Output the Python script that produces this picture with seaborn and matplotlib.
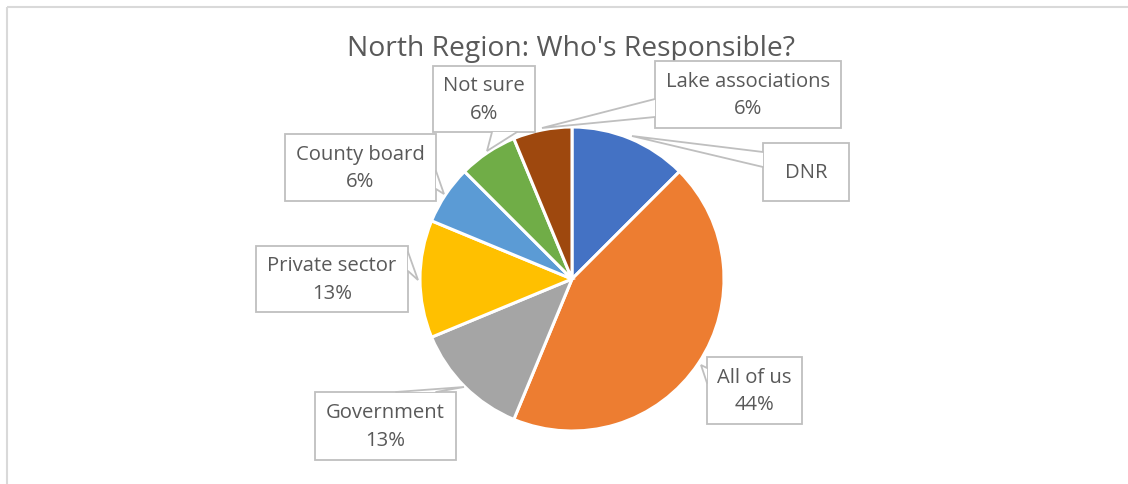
import matplotlib
matplotlib.use("Agg")
import matplotlib.pyplot as plt
from matplotlib.patches import Rectangle, Polygon
import seaborn as sns

# Survey responses: who is responsible (North Region)
categories = ["DNR", "All of us", "Government", "Private sector",
              "County board", "Not sure", "Lake associations"]
counts = [2, 7, 2, 2, 1, 1, 1]
show_percent = [False, True, True, True, True, True, True]
title = "North Region: Who's Responsible?"

sns.set_theme(style="white")
plt.rcParams["font.family"] = ["Open Sans", "DejaVu Sans"]

palette = sns.color_palette(["#4472C4", "#ED7D31", "#A5A5A5", "#FFC000",
                             "#5B9BD5", "#70AD47", "#9E480E"])

W, H = 1128, 485
fig = plt.figure(figsize=(W / 100, H / 100), dpi=100)
fig.patch.set_facecolor("white")

# overlay axes in pixel coordinates for frame, title and callouts
ov = fig.add_axes([0, 0, 1, 1], zorder=2)
ov.set_xlim(0, W)
ov.set_ylim(H, 0)
ov.axis("off")
ov.patch.set_alpha(0)

# chart frame
ov.add_patch(Rectangle((6.5, 7.5), W + 20, H + 20, fill=False,
                       edgecolor="#D9D9D9", linewidth=1.5))

# pie
cx, cy, r = 572, 280, 152
pax = fig.add_axes([(cx - r) / W, (H - cy - r) / H, 2 * r / W, 2 * r / H], zorder=1)
pax.pie(counts, colors=palette, startangle=90, counterclock=False,
        radius=1.0, wedgeprops=dict(edgecolor="white", linewidth=2.2))
pax.set_xlim(-1, 1)
pax.set_ylim(-1, 1)
pax.set_aspect("auto")
pax.axis("off")

ov.text(571, 49, title, ha="center", va="center", fontsize=20.3, color="#595959")

total = sum(counts)
texts = []
for name, v, sp in zip(categories, counts, show_percent):
    if sp:
        texts.append(f"{name}\n{int(100 * v / total + 0.5)}%")
    else:
        texts.append(name)

# callout boxes: (x0, y0, x1, y1), wedge base points, wedge tip
callouts = {
    "DNR": ((763, 144, 849, 202), [(763, 153), (763, 168)], (632, 137)),
    "All of us": ((707, 358, 802, 425), [(707, 369), (707, 384)], (701, 366)),
    "Government": ((315, 393, 456, 461), [(396, 393), (436, 393)], (464, 388)),
    "Private sector": ((256, 247, 408, 313), [(408, 253), (408, 272)], (418, 281)),
    "County board": ((285, 135, 436, 202), [(436, 172), (436, 190)], (444, 195)),
    "Not sure": ((433, 67, 535, 133), [(492, 133), (517, 133)], (487, 152)),
    "Lake associations": ((655, 62, 841, 129), [(655, 100), (655, 118)], (542, 129)),
}

edge = "#BFBFBF"
for name, txt in zip(categories, texts):
    (x0, y0, x1, y1), base, tip = callouts[name]
    ov.add_patch(Rectangle((x0, y0), x1 - x0, y1 - y0, facecolor="white",
                           edgecolor=edge, linewidth=1.3, zorder=3))
    ov.add_patch(Polygon([base[0], tip, base[1]], closed=True, facecolor="white",
                         edgecolor="none", zorder=4))
    ov.plot([base[0][0], tip[0], base[1][0]], [base[0][1], tip[1], base[1][1]],
            color=edge, linewidth=1.3, zorder=5, solid_joinstyle="miter")
    ov.text((x0 + x1) / 2, (y0 + y1) / 2, txt, ha="center", va="center",
            fontsize=14.6, color="#595959", linespacing=1.52, zorder=6)

fig.savefig("out.png", dpi=100)
